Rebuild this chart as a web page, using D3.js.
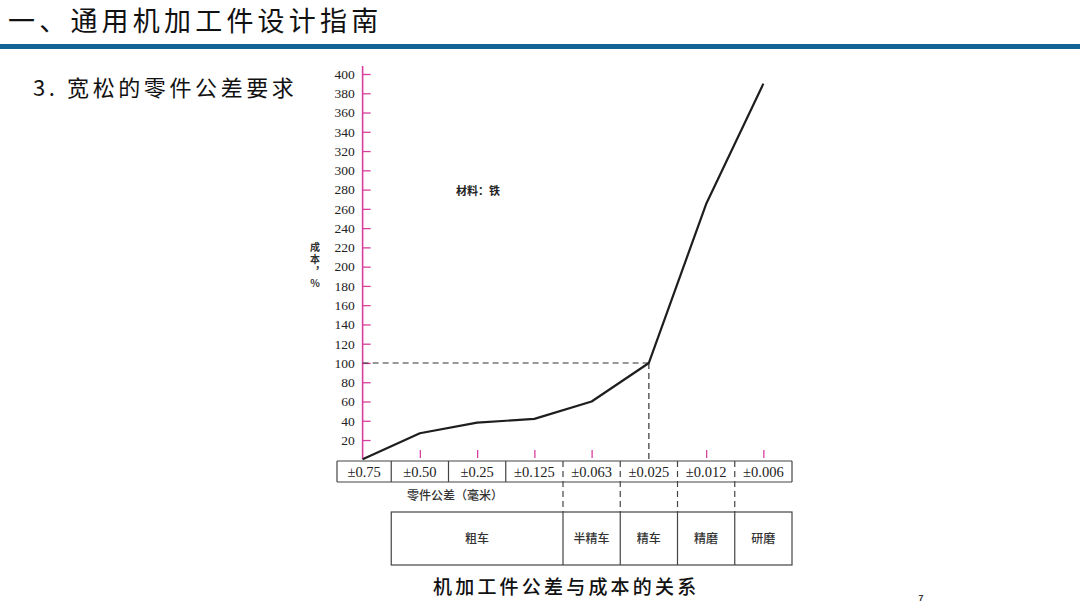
<!DOCTYPE html>
<html><head><meta charset="utf-8">
<script src="https://cdn.jsdelivr.net/npm/d3@7/dist/d3.min.js"></script>
<style>
html,body{margin:0;padding:0;background:#fff;}
svg{display:block;}
</style></head>
<body>
<svg id="c" width="1080" height="608"></svg>
<script>
const tolerances = ["±0.75","±0.50","±0.25","±0.125","±0.063","±0.025","±0.012","±0.006"];
const costs = [0, 27, 38, 42, 60, 100, 265, 390];
const yTicks = [20,40,60,80,100,120,140,160,180,200,220,240,260,280,300,320,340,360,380,400];
const processes = [
  {name:"粗车", from:1, to:4},
  {name:"半精车", from:4, to:5},
  {name:"精车", from:5, to:6},
  {name:"精磨", from:6, to:7},
  {name:"研磨", from:7, to:8}
];
const titleText = "一、通用机加工件设计指南";
const subtitleText = "3. 宽松的零件公差要求";
const captionText = "机加工件公差与成本的关系";
const materialText = "材料：铁";
const yLabelText = "成本，%";
const xLabelText = "零件公差（毫米）";
const refValue = 100;

const svg = d3.select("#c");
const pink = "#d6409c";
const cjk = "'Noto Sans CJK SC', sans-serif";
const serif = "'Liberation Serif', 'DejaVu Serif', serif";

// header
svg.append("text").attr("x",8).attr("y",31).attr("font-family",cjk).attr("font-size",27)
  .attr("font-weight",400).attr("letter-spacing",4.2).attr("fill","#111").text(titleText);
svg.append("rect").attr("x",0).attr("y",44).attr("width",1080).attr("height",5).attr("fill","#136494");
svg.append("text").attr("x",33).attr("y",96).attr("font-family",cjk).attr("font-size",22)
  .attr("font-weight",400).attr("letter-spacing",3.6).attr("fill","#111").text(subtitleText);

const y = d3.scaleLinear().domain([0,400]).range([459.3,74]);
const x = d3.scaleBand().domain(tolerances).range([334,792]).padding(0);
const bw = x.bandwidth();
const cx = d => x(d) + bw/2;

// y axis
const gy = svg.append("g").attr("transform",`translate(${cx(tolerances[0])},0)`);
gy.call(d3.axisLeft(y).tickValues(yTicks).tickSizeInner(-8).tickSizeOuter(0).tickPadding(8));
gy.select(".domain").remove();
gy.selectAll(".tick line").attr("stroke",pink).attr("stroke-width",1.3);
gy.selectAll(".tick text").attr("font-family",serif).attr("font-size",13.5).attr("fill","#222");
gy.append("line").attr("x1",0).attr("x2",0).attr("y1",66).attr("y2",y(0)).attr("stroke",pink).attr("stroke-width",1.6);

// x ticks (pink) above table
const gx = svg.append("g").attr("transform",`translate(0,458)`);
gx.call(d3.axisTop(d3.scalePoint().domain(tolerances).range([cx(tolerances[0]), cx(tolerances[7])]))
  .tickValues(tolerances.filter((d,i)=>i>0 && costs[i]!==refValue)).tickSize(8).tickFormat(""));
gx.select(".domain").remove();
gx.selectAll(".tick line").attr("stroke",pink).attr("stroke-width",1.3);

// reference dashed lines
const refIdx = costs.indexOf(refValue);
svg.append("line").attr("x1",cx(tolerances[0])).attr("x2",cx(tolerances[refIdx]))
  .attr("y1",y(refValue)).attr("y2",y(refValue))
  .attr("stroke","#333").attr("stroke-width",1.2).attr("stroke-dasharray","6,4");
svg.append("line").attr("x1",cx(tolerances[refIdx])).attr("x2",cx(tolerances[refIdx]))
  .attr("y1",y(refValue)).attr("y2",461)
  .attr("stroke","#333").attr("stroke-width",1.2).attr("stroke-dasharray","6,4");

// cost line
svg.append("path").datum(costs.map((c,i)=>[cx(tolerances[i]), y(c)]))
  .attr("d",d3.line()).attr("fill","none").attr("stroke","#1e1e1e").attr("stroke-width",2.2)
  .attr("stroke-linejoin","round");

// material label
svg.append("text").attr("x",456).attr("y",195).attr("font-family",cjk).attr("font-size",11)
  .attr("font-weight",700).attr("fill","#222").text(materialText);

// y label (vertical, single text)
svg.append("text").attr("x",315).attr("y",242)
  .style("writing-mode","vertical-rl").style("text-orientation","upright")
  .attr("letter-spacing",2)
  .attr("font-family",cjk).attr("font-size",10).attr("font-weight",700).attr("fill","#333").text(yLabelText);

// table row 1
const tTop = 461, tBot = 482, bTop = 512, bBot = 565;
const left0 = 337;
const edges = tolerances.map((d,i)=> i===0 ? left0 : x(d)).concat([x(tolerances[7])+bw]);
const tbl = svg.append("g").attr("stroke","#444").attr("stroke-width",1.2).attr("fill","none");
tbl.append("line").attr("x1",left0).attr("x2",edges[8]).attr("y1",tTop).attr("y2",tTop);
tbl.append("line").attr("x1",left0).attr("x2",edges[8]).attr("y1",tBot).attr("y2",tBot);
edges.forEach((e,i)=>{
  const dashed = i>=4 && i<=7;
  tbl.append("line").attr("x1",e).attr("x2",e).attr("y1",tTop)
     .attr("y2", dashed ? bTop : tBot)
     .attr("stroke-dasharray", dashed ? "6,4" : null);
});
svg.append("g").selectAll("text").data(tolerances).join("text")
  .attr("x",d=>cx(d)+(d===tolerances[0]?1.5:0)).attr("y",476.5).attr("text-anchor","middle")
  .attr("font-family",serif).attr("font-size",14.5).attr("fill","#222").text(d=>d);

svg.append("text").attr("x",455).attr("y",500).attr("text-anchor","middle").attr("font-family",cjk)
  .attr("font-size",12).attr("font-weight",500).attr("fill","#333").text(xLabelText);

// process box
const bLeft = edges[processes[0].from];
tbl.append("rect").attr("x",bLeft).attr("y",bTop).attr("width",edges[8]-bLeft).attr("height",bBot-bTop);
processes.forEach(p=>{
  if (p.from>processes[0].from) tbl.append("line").attr("x1",edges[p.from]).attr("x2",edges[p.from]).attr("y1",bTop).attr("y2",bBot);
});
svg.append("g").selectAll("text").data(processes).join("text")
  .attr("x",p=>(edges[p.from]+edges[p.to])/2).attr("y",543).attr("text-anchor","middle")
  .attr("font-family",cjk).attr("font-size",12).attr("font-weight",500).attr("fill","#333").text(p=>p.name);

// caption
svg.append("text").attr("x",433).attr("y",594).attr("font-family",cjk).attr("font-size",19)
  .attr("font-weight",500).attr("letter-spacing",3.2).attr("fill","#111").text(captionText);
svg.append("text").attr("x",921).attr("y",601).attr("text-anchor","middle").attr("font-family","'Liberation Sans', sans-serif")
  .attr("font-size",9).attr("font-weight",700).attr("fill","#333").text("7");
</script>
</body></html>
